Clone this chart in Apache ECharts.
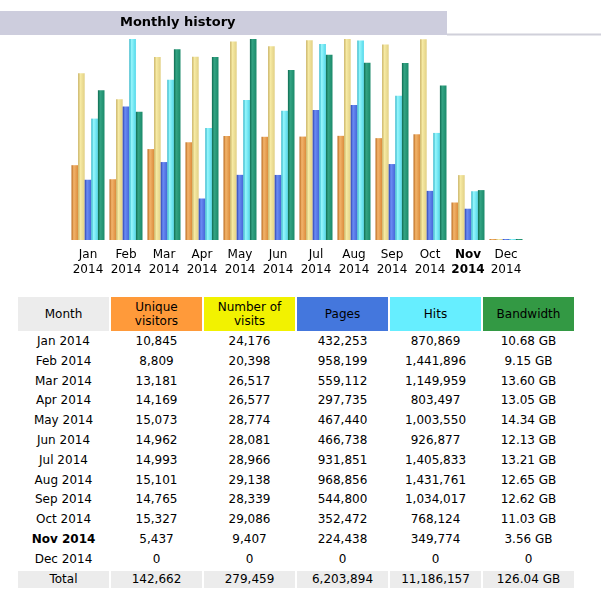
<!DOCTYPE html>
<html><head><meta charset="utf-8">
<script src="https://cdn.jsdelivr.net/npm/echarts@6/dist/echarts.min.js"></script>
<style>
html,body{margin:0;padding:0;background:#fff;width:601px;height:600px;overflow:hidden;font-family:"DejaVu Sans",Verdana,sans-serif;}
#chart{position:absolute;left:0;top:0;width:601px;height:290px;}
#tbl{position:absolute;left:16px;top:295px;border-collapse:separate;border-spacing:2px;font-size:12px;color:#000;}
#tbl td,#tbl th{padding:0;text-align:center;width:91px;font-weight:normal;}
#tbl th{height:34px;line-height:14px;}
#tbl td{height:17.8px;line-height:17.8px;}
#tbl tr.tot td{background:#ECECEC;}
#tbl .b{font-weight:bold;}
</style></head><body>
<div id="chart"></div>
<table id="tbl"></table>
<script>
const months = ["Jan 2014","Feb 2014","Mar 2014","Apr 2014","May 2014","Jun 2014","Jul 2014","Aug 2014","Sep 2014","Oct 2014","Nov 2014","Dec 2014"];
const uniqueVisitors = [10845, 8809, 13181, 14169, 15073, 14962, 14993, 15101, 14765, 15327, 5437, 0];
const visits = [24176, 20398, 26517, 26577, 28774, 28081, 28966, 29138, 28339, 29086, 9407, 0];
const pages = [432253, 958199, 559112, 297735, 467440, 466738, 931851, 968856, 544800, 352472, 224438, 0];
const hits = [870869, 1441896, 1149959, 803497, 1003550, 926877, 1405833, 1431761, 1034017, 768124, 349774, 0];
const bandwidthGB = [10.68, 9.15, 13.60, 13.05, 14.34, 12.13, 13.21, 12.65, 12.62, 11.03, 3.56, 0];
const totals = ["142,662", "279,459", "6,203,894", "11,186,157", "126.04 GB"];
const currentMonth = "Nov 2014";
const headers = ["Month", "Unique<br>visitors", "Number of<br>visits", "Pages", "Hits", "Bandwidth"];

const headerColors = ["#ECECEC", "#FF9A3A", "#F2F200", "#4477DD", "#66EEFF", "#339944"];

// Table
const fmt = n => n.toLocaleString("en-US");
let html = "<tr>" + headers.map((h,i)=>`<th style="background:${headerColors[i]}">${h}</th>`).join("") + "</tr>";
months.forEach((m,i)=>{
  const cls = m === currentMonth ? ' class="b"' : '';
  const bw = bandwidthGB[i] === 0 ? "0" : bandwidthGB[i].toFixed(2) + " GB";
  html += `<tr><td${cls}>${m}</td><td>${fmt(uniqueVisitors[i])}</td><td>${fmt(visits[i])}</td><td>${fmt(pages[i])}</td><td>${fmt(hits[i])}</td><td>${bw}</td></tr>`;
});
html += `<tr class="tot"><td>Total</td>` + totals.map(t=>`<td>${t}</td>`).join("") + "</tr>";
document.getElementById("tbl").innerHTML = html;

// Chart
const grad = (a,b,c) => ({type:'linear',x:0,y:0,x2:1,y2:0,colorStops:[{offset:0,color:a},{offset:0.35,color:b},{offset:1,color:c}]});
const chart = echarts.init(document.getElementById("chart"), null, {renderer:'canvas'});
const vMax = Math.max(...visits, ...uniqueVisitors);
const hMax = Math.max(...hits, ...pages);
const bMax = Math.max(...bandwidthGB);
const mkBar = (name, data, yi, color) => ({
  name, type:'bar', data, yAxisIndex: yi, barWidth: 6.6, barGap: '0%', barMinHeight: 1,
  itemStyle:{color}, silent:true, animation:false
});
chart.setOption({
  animation:false,
  graphic:[
    {type:'rect', shape:{x:0,y:11,width:447,height:24}, style:{fill:'#CDCDDD'}},
    {type:'line', shape:{x1:447,y1:34.5,x2:601,y2:34.5}, style:{stroke:'#D0D0DA',lineWidth:2}},
    {type:'text', x:120, y:23, style:{text:'Monthly history', font:'bold 13px "DejaVu Sans", Verdana, sans-serif', fill:'#000', textVerticalAlign:'middle'}}
  ],
  grid:{left:69, right:76, top:39, bottom:50},
  xAxis:{type:'category', data:months, axisLine:{show:false}, axisTick:{show:false},
    axisLabel:{interval:0, margin:7, lineHeight:15, color:'#000', fontSize:12, fontFamily:'DejaVu Sans',
      formatter:(v)=>{const p=v.split(' '); return v===currentMonth ? `{b|${p[0]}}\n{b|${p[1]}}` : `${p[0]}\n${p[1]}`;},
      rich:{b:{fontWeight:'bold', fontSize:12, fontFamily:'DejaVu Sans', color:'#000', lineHeight:15}}}},
  yAxis:[
    {type:'value', min:0, max:vMax, show:false},
    {type:'value', min:0, max:hMax, show:false},
    {type:'value', min:0, max:bMax, show:false}
  ],
  series:[
    mkBar('Unique visitors', uniqueVisitors, 0, grad('#B8661A','#F2B46C','#DC8C3C')),
    mkBar('Number of visits', visits, 0, grad('#C8B060','#F6EAA4','#E2D084')),
    mkBar('Pages', pages, 1, grad('#2A40B0','#6C8CF4','#4466D8')),
    mkBar('Hits', hits, 1, grad('#2CB4C8','#96F6FC','#52D8EA')),
    mkBar('Bandwidth', bandwidthGB, 2, grad('#0E6A50','#34A484','#1A8A6A'))
  ]
});
</script>
</body></html>
